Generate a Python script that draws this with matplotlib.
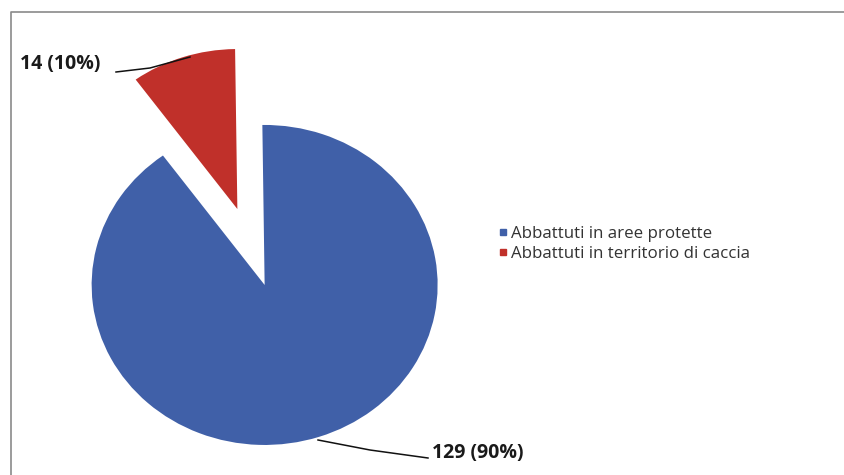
import matplotlib
matplotlib.use('Agg')
import matplotlib.pyplot as plt
from matplotlib.lines import Line2D

# Data
labels = ['Abbattuti in aree protette', 'Abbattuti in territorio di caccia']
counts = [129, 14]
percents = [90, 10]
colors = ['#4060A8', '#C0302A']

W, H = 845, 475
fig = plt.figure(figsize=(W / 100, H / 100), dpi=100)
fig.patch.set_facecolor('white')

# axes over the whole figure; pie centre at pixel (251, 247), slightly wider than tall
cx, cy, rx, ry = 251, 247, 173, 160
ax = fig.add_axes([0, 0, 1, 1])
wedges, _ = ax.pie(counts, colors=colors, startangle=126, counterclock=True,
                   explode=[0.25, 0.25], wedgeprops=dict(linewidth=0))
ax.set_aspect('auto')
ax.set_xlim(-cx / rx, (W - cx) / rx)
ax.set_ylim(-(H - cy) / ry, cy / ry)
ax.axis('off')

def px(x, y):
    return ((x - cx) / rx, (cy - y) / ry)

# data labels with leader lines
lab_font = dict(family='Open Sans', fontsize=14, fontweight='bold', color='#1a1a1a')
t0 = f'{counts[0]} ({percents[0]}%)'
t1 = f'{counts[1]} ({percents[1]}%)'
ax.text(*px(432, 453), t0, ha='left', va='center', **lab_font)
ax.text(*px(20, 64), t1, ha='left', va='center', **lab_font)

xs, ys = zip(px(318, 440), px(370, 450), px(428, 458))
ax.plot(xs, ys, color='#111111', lw=1.1)
xs, ys = zip(px(116, 72), px(150, 68), px(190, 57))
ax.plot(xs, ys, color='#111111', lw=1.1)

# legend
handles = [Line2D([], [], marker='s', ls='', markersize=5, color=c) for c in colors]
fig.legend(handles, labels, loc='center left', bbox_to_anchor=(482 / W, 1 - 244 / H),
           frameon=False, prop=dict(family='Open Sans', size=12.2), handletextpad=0.1,
           handlelength=0.7, labelspacing=0.22, labelcolor='#333333')

# chart border (left and top edges)
fig.add_artist(Line2D([11 / W, 11 / W, 1], [0, 1 - 12 / H, 1 - 12 / H],
                      transform=fig.transFigure, color='#8a8a8a', lw=1.2))

fig.savefig('out.png', dpi=100)
